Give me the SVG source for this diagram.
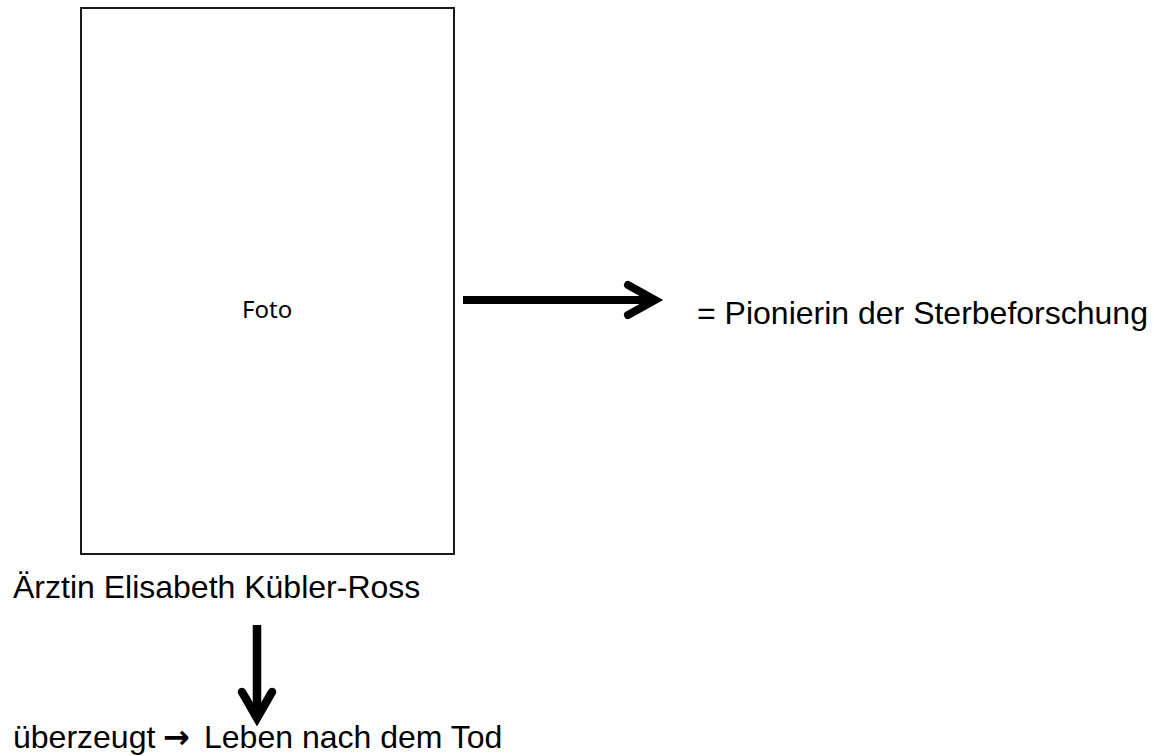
<svg xmlns="http://www.w3.org/2000/svg" width="1154" height="756" viewBox="0 0 1154 756">
<style>
.t{font-family:"Liberation Sans",Arial,sans-serif;font-size:32px;fill:#000}
.foto{font-family:"Noto Sans","Open Sans",sans-serif;font-size:24px;fill:#000}
.shaft{stroke:#000;fill:none;stroke-linecap:butt}
.head{stroke:#000;fill:none;stroke-linecap:round;stroke-linejoin:miter;stroke-miterlimit:10}
</style>
<rect width="1154" height="756" fill="#fff"/>
<g id="foto">
<rect x="81" y="8" width="373" height="546" fill="#fff" stroke="#000" stroke-width="1.8"/>
<text class="foto" x="242" y="318">Foto</text>
</g>
<g id="pionierin">
<text class="t" x="697" y="324">= Pionierin der Sterbeforschung</text>
</g>
<g id="aerztin">
<text class="t" x="13" y="598">Ärztin Elisabeth Kübler-Ross</text>
</g>
<g id="ueberzeugt">
<text class="t" x="13" y="748">überzeugt</text>
<text x="163" y="748" style="font-family:'DejaVu Sans',sans-serif;font-size:32px;font-weight:bold">→</text>
<text class="t" x="204" y="748">Leben nach dem Tod</text>
</g>
<g id="connectors">
<line class="shaft" x1="463" y1="300" x2="652" y2="300" stroke-width="8"/>
<polyline class="head" points="628,285 655,300 628,315" stroke-width="8"/>
<line class="shaft" x1="257" y1="625" x2="257" y2="714" stroke-width="8.5"/>
<polyline class="head" points="242,692 257,718 272,692" stroke-width="8.5"/>
</g>
</svg>
